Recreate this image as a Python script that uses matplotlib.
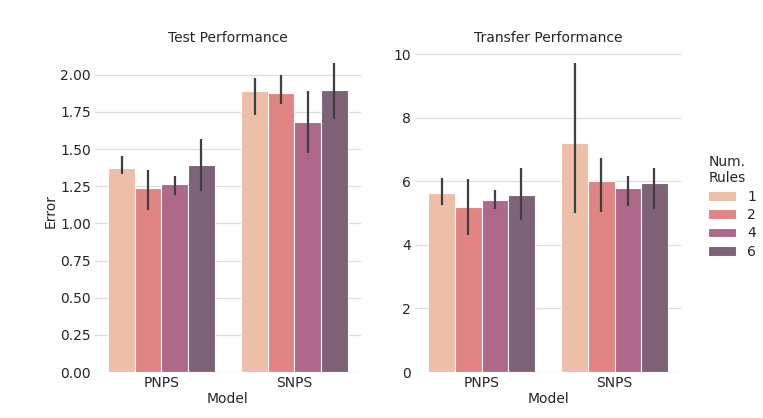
import numpy as np
import matplotlib
matplotlib.use("Agg")
import matplotlib.pyplot as plt
import seaborn as sns

models = ["PNPS", "SNPS"]
num_rules = ["1", "2", "4", "6"]

# bar heights [rule][model]
test_err = [[1.372, 1.89], [1.235, 1.88], [1.265, 1.68], [1.395, 1.90]]
test_lo = [[1.33, 1.73], [1.09, 1.80], [1.19, 1.47], [1.22, 1.70]]
test_hi = [[1.45, 1.98], [1.36, 2.00], [1.32, 1.89], [1.57, 2.08]]

transfer_err = [[5.65, 7.20], [5.20, 6.02], [5.40, 5.78], [5.58, 5.95]]
transfer_lo = [[5.25, 5.00], [4.30, 5.03], [5.12, 5.23], [4.80, 5.13]]
transfer_hi = [[6.10, 9.72], [6.07, 6.73], [5.73, 6.18], [6.42, 6.43]]

colors = ["#edbea8", "#e08583", "#ae6889", "#7e6278"]

sns.set_style("whitegrid")
plt.rcParams["font.family"] = ["DejaVu Sans"]
plt.rcParams["text.color"] = "#262626"
plt.rcParams["axes.labelcolor"] = "#262626"
plt.rcParams["xtick.color"] = "#262626"
plt.rcParams["ytick.color"] = "#262626"

fig = plt.figure(figsize=(7.63, 4.18), dpi=100)
ax0 = fig.add_axes([0.1245, 0.110, 0.3485, 0.770])
ax1 = fig.add_axes([0.544, 0.110, 0.3485, 0.770])


def draw(ax, vals, lo, hi, title, yticks, fmt):
    x = np.arange(len(models))
    w = 0.8 / len(num_rules)
    for i, rule in enumerate(num_rules):
        pos = x - 0.4 + w * (i + 0.5)
        ax.bar(pos, vals[i], width=w, color=colors[i], edgecolor="white",
               linewidth=0.8, label=rule, zorder=2)
        ax.vlines(pos, lo[i], hi[i], color="#3f3f3f", linewidth=1.6, zorder=3)
    ax.set_xticks(x)
    ax.set_xticklabels(models)
    ax.set_xlim(-0.5, 1.5)
    ax.set_yticks(yticks)
    ax.set_yticklabels([fmt.format(t) for t in yticks])
    ax.set_title(title, fontsize=10)
    ax.set_xlabel("Model", fontsize=10, labelpad=1)
    ax.tick_params(labelsize=10, length=0, pad=3)
    ax.grid(axis="x", visible=False)
    ax.grid(axis="y", color="#dddddd", linewidth=0.9)
    for s in ax.spines.values():
        s.set_visible(False)


draw(ax0, test_err, test_lo, test_hi, "Test Performance",
     [0, 0.25, 0.5, 0.75, 1.0, 1.25, 1.5, 1.75, 2.0], "{:.2f}")
ax0.set_ylim(0, 2.165)
ax0.set_ylabel("Error", fontsize=10, labelpad=2)

draw(ax1, transfer_err, transfer_lo, transfer_hi, "Transfer Performance",
     [0, 2, 4, 6, 8, 10], "{:g}")
ax1.set_ylim(0, 10.13)
ax1.set_ylabel("")

handles, labels = ax1.get_legend_handles_labels()
leg = fig.legend(handles, labels, title="Num.\nRules", loc="center left",
                 bbox_to_anchor=(0.912, 0.505), frameon=False, fontsize=10,
                 title_fontsize=10, handlelength=2.0, labelspacing=0.32,
                 alignment="left")

fig.savefig("out.png", dpi=100)
